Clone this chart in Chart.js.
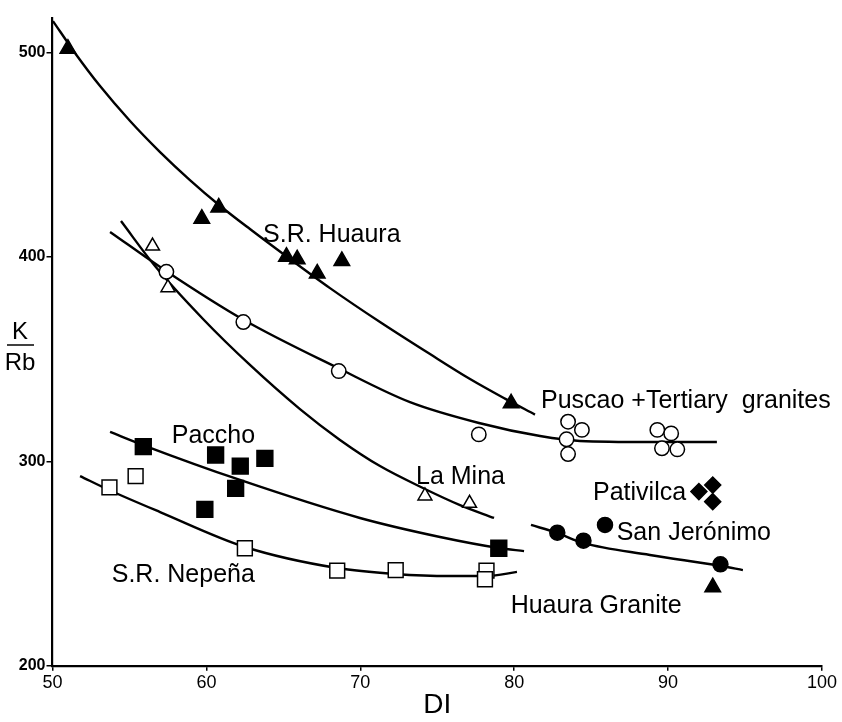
<!DOCTYPE html>
<html><head><meta charset="utf-8">
<script src="https://cdn.jsdelivr.net/npm/chart.js@4"></script>
<style>html,body{margin:0;padding:0;background:#fff}</style>
</head><body>
<canvas id="c" width="842" height="722"></canvas>
<script>
// ---- tick labels ----
const xTicks = [50, 60, 70, 80, 90, 100];
const yTicks = [200, 300, 400, 500];

// ---- sample points (DI, K/Rb) ----
const huauraDI  = [51.0, 59.7, 60.8, 65.2, 65.9, 67.2, 68.8, 79.8, 92.9];
const huauraKRb = [502, 418.8, 424.3, 400.2, 398.9, 392.0, 398.1, 328.4, 238.4];

const puscaoDI  = [57.4, 62.4, 68.6, 77.7, 83.5, 84.4, 83.4, 83.5, 89.3, 90.2, 89.6, 90.6];
const puscaoKRb = [392.8, 368.2, 344.2, 313.2, 319.4, 315.4, 310.8, 303.6, 315.4, 313.7, 306.4, 305.9];

const laMinaDI  = [56.5, 57.5, 74.2, 77.1];
const laMinaKRb = [405.4, 385.0, 283.1, 279.5];

const pacchoDI  = [55.9, 60.6, 62.2, 63.8, 61.9, 59.9, 79.0];
const pacchoKRb = [307.2, 303.1, 297.7, 301.5, 286.8, 276.5, 257.5];

const nepenaDI  = [53.7, 55.4, 62.5, 68.5, 72.3, 78.2, 78.1];
const nepenaKRb = [287.3, 292.8, 257.5, 246.5, 246.8, 246.5, 242.3];

const pativilcaDI  = [92.0, 92.9, 92.9];
const pativilcaKRb = [285.2, 288.4, 280.3];

const sanJeronimoDI  = [85.9];
const sanJeronimoKRb = [268.9];

const huauraGraniteDI  = [82.8, 84.5, 93.4];
const huauraGraniteKRb = [265.1, 261.2, 249.6];

// ---- hand-drawn trend curves ----
const curveHuauraDI  = [50.03, 51.46, 53.09, 55.04, 56.99, 58.93, 60.82, 62.83, 65.17, 68.03, 71.28, 74.53, 77.13, 79.40, 81.35];
const curveHuauraKRb = [515.5, 499.9, 483.7, 466.6, 451.4, 437.7, 425.5, 413.7, 400.5, 384.8, 368.2, 352.5, 340.3, 330.7, 322.9];

const curvePuscaoDI  = [53.74, 57.37, 62.44, 68.55, 73.23, 77.71, 81.68, 84.27, 88.82, 93.17];
const curvePuscaoKRb = [412.3, 393.2, 369.2, 345.7, 329.0, 318.8, 312.4, 310.0, 309.5, 309.5];

const curveLaMinaDI  = [54.45, 56.66, 59.78, 62.83, 66.08, 68.68, 71.28, 74.20, 76.48, 78.69];
const curveLaMinaKRb = [417.6, 395.6, 369.7, 347.2, 325.6, 310.5, 297.7, 286.5, 278.6, 272.3];

const curvePacchoDI  = [53.74, 55.88, 62.18, 69.98, 75.18, 79.01, 80.64];
const curvePacchoKRb = [314.4, 308.0, 290.9, 272.3, 263.0, 257.6, 256.1];

const curveNepenaDI  = [51.79, 53.67, 56.99, 62.51, 68.49, 72.25, 75.83, 78.23, 80.18];
const curveNepenaKRb = [292.8, 286.0, 275.2, 258.1, 247.8, 244.9, 243.9, 243.9, 245.9];

const curveGraniteDI  = [81.09, 82.78, 84.47, 88.82, 93.43, 94.86];
const curveGraniteKRb = [268.9, 265.0, 260.1, 254.2, 248.8, 246.8];

// ---- group labels ----
const labelTexts = ['S.R. Huaura', 'Puscao +Tertiary  granites', 'Paccho', 'La Mina',
                    'Pativilca', 'San Jerónimo', 'S.R. Nepeña', 'Huaura Granite'];
const labelDI  = [63.68, 81.74, 57.75, 73.62, 85.12, 86.66, 53.85, 79.77];
const labelKRb = [407.5, 326.1, 309.0, 288.9, 281.1, 261.5, 241.1, 225.8];

const pts = (xs, ys) => xs.map((x, i) => ({x, y: ys[i]}));

function pointSet(label, xs, ys, style, filled, radius) {
  return {
    type: 'scatter', label, data: pts(xs, ys), order: 1,
    pointStyle: style, pointRadius: radius, pointHoverRadius: radius,
    pointBackgroundColor: filled ? '#000' : '#fff',
    pointBorderColor: '#000', pointBorderWidth: 1.5
  };
}
function curveSet(label, xs, ys) {
  return {
    type: 'line', label, data: pts(xs, ys), order: 2,
    borderColor: '#000', borderWidth: 2.4, pointRadius: 0, fill: false,
    cubicInterpolationMode: 'monotone'
  };
}

const labelPlugin = {
  id: 'labels',
  afterDatasetsDraw(chart) {
    const {ctx, scales: {x, y}} = chart;
    ctx.save();
    ctx.fillStyle = '#000';
    ctx.font = '25px "Liberation Sans", Arial, sans-serif';
    ctx.textAlign = 'left';
    ctx.textBaseline = 'alphabetic';
    labelTexts.forEach((t, i) => ctx.fillText(t, x.getPixelForValue(labelDI[i]), y.getPixelForValue(labelKRb[i])));
    // K / Rb axis label as fraction
    ctx.textAlign = 'center';
    ctx.font = '24px "Liberation Sans", Arial, sans-serif';
    ctx.fillText('K', 20, 339);
    ctx.fillText('Rb', 20, 370);
    ctx.lineWidth = 1.5;
    ctx.strokeStyle = '#000';
    ctx.beginPath(); ctx.moveTo(7, 345); ctx.lineTo(34, 345); ctx.stroke();
    ctx.restore();
  }
};

new Chart(document.getElementById('c'), {
  data: {
    datasets: [
      pointSet('S.R. Huaura', huauraDI, huauraKRb, 'triangle', true, 9),
      pointSet('Puscao + Tertiary granites', puscaoDI, puscaoKRb, 'circle', false, 7.2),
      pointSet('La Mina', laMinaDI, laMinaKRb, 'triangle', false, 8),
      pointSet('Paccho', pacchoDI, pacchoKRb, 'rect', true, 11.2),
      pointSet('S.R. Nepeña', nepenaDI, nepenaKRb, 'rect', false, 10.5),
      pointSet('Pativilca', pativilcaDI, pativilcaKRb, 'rectRot', true, 8),
      pointSet('San Jerónimo', sanJeronimoDI, sanJeronimoKRb, 'circle', true, 7.5),
      pointSet('Huaura Granite', huauraGraniteDI, huauraGraniteKRb, 'circle', true, 7.5),
      curveSet('S.R. Huaura trend', curveHuauraDI, curveHuauraKRb),
      curveSet('Puscao trend', curvePuscaoDI, curvePuscaoKRb),
      curveSet('La Mina trend', curveLaMinaDI, curveLaMinaKRb),
      curveSet('Paccho trend', curvePacchoDI, curvePacchoKRb),
      curveSet('S.R. Nepeña trend', curveNepenaDI, curveNepenaKRb),
      curveSet('Huaura Granite trend', curveGraniteDI, curveGraniteKRb)
    ]
  },
  options: {
    responsive: false,
    animation: false,
    layout: {padding: {top: 18, right: 20, bottom: 0, left: 0}},
    plugins: {legend: {display: false}, tooltip: {enabled: false}},
    scales: {
      x: {
        type: 'linear', position: 'bottom', min: 50, max: 100,
        afterBuildTicks: s => { s.ticks = xTicks.map(v => ({value: v})); },
        afterFit: s => { s.height = 56.3; },
        ticks: {color: '#000', font: {family: '"Liberation Sans", Arial, sans-serif', size: 18}, padding: 2, maxRotation: 0, autoSkip: false},
        grid: {display: true, drawOnChartArea: false, drawTicks: true, tickLength: 5, color: '#000', lineWidth: 1.5},
        border: {display: true, color: '#000', width: 2.2},
        title: {display: true, text: 'DI', color: '#000', font: {family: '"Liberation Sans", Arial, sans-serif', size: 28}, padding: 0}
      },
      y: {
        type: 'linear', position: 'left', min: 200, max: 517,
        afterBuildTicks: s => { s.ticks = yTicks.map(v => ({value: v})); },
        afterFit: s => { s.width = 52.5; },
        ticks: {color: '#000', font: {family: '"Liberation Sans", Arial, sans-serif', size: 16, weight: 'bold'}, padding: 1, autoSkip: false},
        grid: {display: true, drawOnChartArea: false, drawTicks: true, tickLength: 6, color: '#000', lineWidth: 1.5},
        border: {display: true, color: '#000', width: 2.2}
      }
    }
  },
  plugins: [labelPlugin]
});
</script>
</body></html>
